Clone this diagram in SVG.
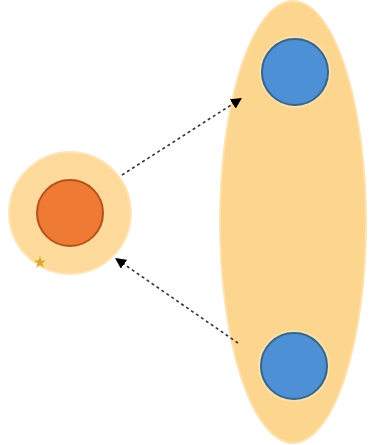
<svg xmlns="http://www.w3.org/2000/svg" width="369" height="445" viewBox="0 0 369 445">
<style>
.halo{fill:#fcd58e;stroke:#fde3b2;stroke-width:2}
.halo2{fill:#fdda9c;stroke:#fee6bb;stroke-width:2}
.ring{fill:none;stroke:#f3e2b6;stroke-width:2}
.blue{fill:#4e90d6;stroke:#3c6480;stroke-width:2}
.orange{fill:#ef7a33;stroke:#b4521b;stroke-width:2}
.conn{stroke:#333;stroke-width:1.6;stroke-dasharray:3 3;fill:none}
</style>
<defs>
<marker id="ah" viewBox="0 0 10 10" refX="10" refY="5" markerWidth="11" markerHeight="11" orient="auto" markerUnits="userSpaceOnUse">
<path d="M0 0L10 5L0 10z" fill="#000"/>
</marker>
</defs>
<rect width="369" height="445" fill="#fff"/>
<g id="right-group">
<ellipse class="halo" cx="293" cy="222" rx="73" ry="221"/>
</g>
<g id="top-blue">
<circle class="ring" cx="295" cy="72" r="35"/>
<circle class="blue" cx="295" cy="72" r="33"/>
</g>
<g id="bottom-blue">
<circle class="ring" cx="294" cy="366" r="35"/>
<circle class="blue" cx="294" cy="366" r="33"/>
</g>
<g id="left-group">
<circle class="halo2" cx="70" cy="213" r="61"/>
<path d="M40 256l1.5 4.5h4.5l-3.7 2.7 1.4 4.5-3.7-2.8-3.7 2.8 1.4-4.5-3.7-2.7h4.5z" fill="#d4aa2a"/>
</g>
<g id="orange-node">
<circle class="orange" cx="70" cy="213" r="33"/>
</g>
<g id="connectors">
<line class="conn" x1="122" y1="175" x2="242" y2="98" marker-end="url(#ah)"/>
<line class="conn" x1="238" y1="343" x2="115" y2="258" marker-end="url(#ah)"/>
</g>
</svg>
